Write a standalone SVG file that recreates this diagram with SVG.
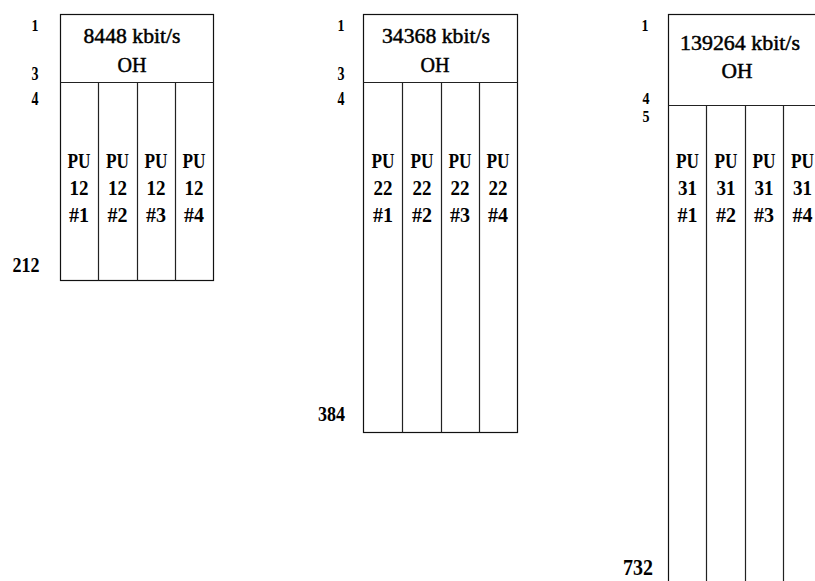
<svg xmlns="http://www.w3.org/2000/svg" width="815" height="581" viewBox="0 0 815 581">
<style>
.box{fill:#fff;stroke:#111;stroke-width:1.2}
.ln{stroke:#222;stroke-width:1.2;fill:none}
text{font-family:"Liberation Serif","Times New Roman",serif;fill:#000}
.t{font-size:20px;text-anchor:middle;stroke:#000;stroke-width:0.45}
.c{font-size:22px;text-anchor:middle;font-weight:bold}
.l{font-weight:bold;text-anchor:middle}
</style>
<rect width="815" height="581" fill="#fff"/>
<g id="frame-8448">
<rect class="box" x="60.5" y="14.5" width="153" height="266"/>
<path class="ln" d="M60.5 82.5H213.5M98.5 82.5V280.5M137.5 82.5V280.5M175.5 82.5V280.5"/>
<text class="t" x="132" y="43" textLength="97" lengthAdjust="spacingAndGlyphs">8448 kbit/s</text>
<text class="t" x="132" y="72" textLength="29" lengthAdjust="spacingAndGlyphs">OH</text>
<g class="c">
<text x="79" y="168" textLength="23" lengthAdjust="spacingAndGlyphs">PU</text><text x="79" y="195" textLength="19" lengthAdjust="spacingAndGlyphs">12</text><text x="79" y="222" textLength="20" lengthAdjust="spacingAndGlyphs">#1</text>
<text x="117.5" y="168" textLength="23" lengthAdjust="spacingAndGlyphs">PU</text><text x="117.5" y="195" textLength="19" lengthAdjust="spacingAndGlyphs">12</text><text x="117.5" y="222" textLength="20" lengthAdjust="spacingAndGlyphs">#2</text>
<text x="156" y="168" textLength="23" lengthAdjust="spacingAndGlyphs">PU</text><text x="156" y="195" textLength="19" lengthAdjust="spacingAndGlyphs">12</text><text x="156" y="222" textLength="20" lengthAdjust="spacingAndGlyphs">#3</text>
<text x="194" y="168" textLength="23" lengthAdjust="spacingAndGlyphs">PU</text><text x="194" y="195" textLength="19" lengthAdjust="spacingAndGlyphs">12</text><text x="194" y="222" textLength="20" lengthAdjust="spacingAndGlyphs">#4</text>
</g>
<text class="l" x="35" y="31" font-size="17" textLength="7" lengthAdjust="spacingAndGlyphs">1</text>
<text class="l" x="35" y="80" font-size="19" textLength="7" lengthAdjust="spacingAndGlyphs">3</text>
<text class="l" x="35" y="105" font-size="19" textLength="7" lengthAdjust="spacingAndGlyphs">4</text>
<text class="l" x="26" y="272" font-size="20" textLength="27" lengthAdjust="spacingAndGlyphs">212</text>
</g>
<g id="frame-34368">
<rect class="box" x="363.5" y="14.5" width="154" height="418"/>
<path class="ln" d="M363.5 82.5H517.5M402.5 82.5V432.5M441.5 82.5V432.5M479.5 82.5V432.5"/>
<text class="t" x="436" y="43" textLength="108" lengthAdjust="spacingAndGlyphs">34368 kbit/s</text>
<text class="t" x="435" y="72" textLength="29" lengthAdjust="spacingAndGlyphs">OH</text>
<g class="c">
<text x="383" y="168" textLength="23" lengthAdjust="spacingAndGlyphs">PU</text><text x="383" y="195" textLength="19" lengthAdjust="spacingAndGlyphs">22</text><text x="383" y="222" textLength="20" lengthAdjust="spacingAndGlyphs">#1</text>
<text x="422" y="168" textLength="23" lengthAdjust="spacingAndGlyphs">PU</text><text x="422" y="195" textLength="19" lengthAdjust="spacingAndGlyphs">22</text><text x="422" y="222" textLength="20" lengthAdjust="spacingAndGlyphs">#2</text>
<text x="460" y="168" textLength="23" lengthAdjust="spacingAndGlyphs">PU</text><text x="460" y="195" textLength="19" lengthAdjust="spacingAndGlyphs">22</text><text x="460" y="222" textLength="20" lengthAdjust="spacingAndGlyphs">#3</text>
<text x="498" y="168" textLength="23" lengthAdjust="spacingAndGlyphs">PU</text><text x="498" y="195" textLength="19" lengthAdjust="spacingAndGlyphs">22</text><text x="498" y="222" textLength="20" lengthAdjust="spacingAndGlyphs">#4</text>
</g>
<text class="l" x="341" y="31" font-size="17" textLength="7" lengthAdjust="spacingAndGlyphs">1</text>
<text class="l" x="341" y="80" font-size="19" textLength="7" lengthAdjust="spacingAndGlyphs">3</text>
<text class="l" x="341" y="105" font-size="19" textLength="7" lengthAdjust="spacingAndGlyphs">4</text>
<text class="l" x="331.5" y="421" font-size="20" textLength="27" lengthAdjust="spacingAndGlyphs">384</text>
</g>
<g id="frame-139264">
<rect class="box" x="668.5" y="14.5" width="154" height="600"/>
<path class="ln" d="M668.5 105.5H822M706.5 105.5V600M745.5 105.5V600M783.5 105.5V600"/>
<text class="t" x="740" y="50" textLength="120" lengthAdjust="spacingAndGlyphs">139264 kbit/s</text>
<text class="t" x="737" y="78" textLength="31" lengthAdjust="spacingAndGlyphs">OH</text>
<g class="c">
<text x="687.5" y="168" textLength="23" lengthAdjust="spacingAndGlyphs">PU</text><text x="687.5" y="195" textLength="19" lengthAdjust="spacingAndGlyphs">31</text><text x="687.5" y="222" textLength="20" lengthAdjust="spacingAndGlyphs">#1</text>
<text x="726" y="168" textLength="23" lengthAdjust="spacingAndGlyphs">PU</text><text x="726" y="195" textLength="19" lengthAdjust="spacingAndGlyphs">31</text><text x="726" y="222" textLength="20" lengthAdjust="spacingAndGlyphs">#2</text>
<text x="764" y="168" textLength="23" lengthAdjust="spacingAndGlyphs">PU</text><text x="764" y="195" textLength="19" lengthAdjust="spacingAndGlyphs">31</text><text x="764" y="222" textLength="20" lengthAdjust="spacingAndGlyphs">#3</text>
<text x="802.5" y="168" textLength="23" lengthAdjust="spacingAndGlyphs">PU</text><text x="802.5" y="195" textLength="19" lengthAdjust="spacingAndGlyphs">31</text><text x="802.5" y="222" textLength="20" lengthAdjust="spacingAndGlyphs">#4</text>
</g>
<text class="l" x="645" y="31" font-size="17" textLength="7" lengthAdjust="spacingAndGlyphs">1</text>
<text class="l" x="646" y="104" font-size="17" textLength="7" lengthAdjust="spacingAndGlyphs">4</text>
<text class="l" x="646" y="122" font-size="17" textLength="7" lengthAdjust="spacingAndGlyphs">5</text>
<text class="l" x="638" y="575" font-size="23" textLength="30" lengthAdjust="spacingAndGlyphs">732</text>
</g>
</svg>
